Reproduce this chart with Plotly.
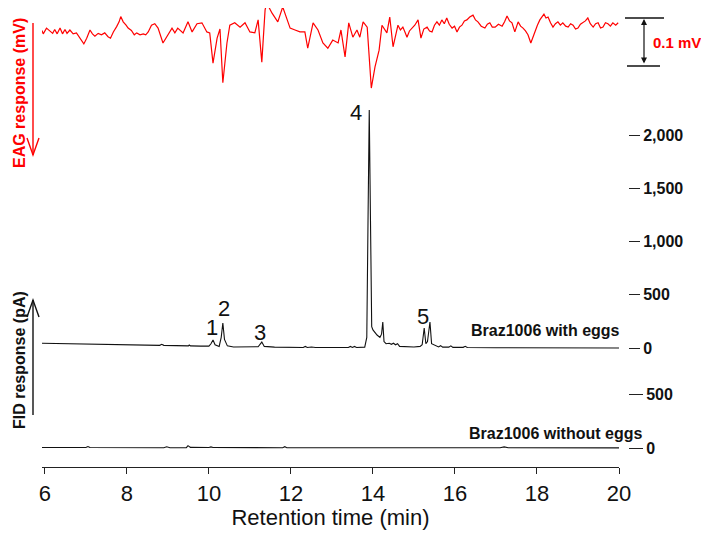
import plotly.graph_objects as go

# ---------------- data ----------------
# EAG response (mV), relative to baseline, in three time segments
eag_t_a = [5.93, 5.96, 6.04, 6.12, 6.19, 6.24, 6.30, 6.37, 6.43, 6.49,
           6.54, 6.61, 6.69, 6.77, 6.84, 6.90, 6.95, 7.02, 7.10, 7.16,
           7.22, 7.30, 7.38, 7.46, 7.54, 7.60, 7.67, 7.75, 7.81, 7.85,
           7.91, 7.98, 8.03, 8.11, 8.18, 8.24, 8.32, 8.40, 8.46, 8.52,
           8.60, 8.68, 8.76]
eag_v_a = [-0.001, -0.008, 0.004, -0.001, -0.007, 0.001, -0.008, 0.004, -0.008, 0.001,
           -0.007, 0.000, -0.008, -0.006, -0.015, -0.024, -0.029, -0.017, 0.000, -0.008,
           -0.013, -0.007, -0.010, -0.006, -0.014, -0.017, -0.004, 0.007, 0.017, 0.028,
           0.017, 0.010, 0.004, -0.001, -0.010, -0.006, -0.010, -0.008, -0.010, -0.004,
           0.010, 0.013, 0.004]
eag_t_b = [8.88, 9.00, 9.10, 9.17, 9.24, 9.37, 9.49, 9.59, 9.71, 9.83,
           9.95, 10.02, 10.10, 10.20, 10.27, 10.34, 10.44, 10.51, 10.63, 10.76,
           10.88, 11.00, 11.12, 11.20, 11.29, 11.37, 11.41, 11.54, 11.61, 11.68,
           11.80, 11.90, 11.98, 12.10, 12.22, 12.34, 12.41, 12.54, 12.66, 12.78,
           12.90, 13.02, 13.15, 13.22, 13.32, 13.41, 13.51, 13.61, 13.68, 13.76,
           13.86, 13.96, 14.05, 14.15, 14.22, 14.34, 14.41, 14.49]
eag_v_b = [-0.027, -0.010, 0.004, -0.006, 0.004, -0.006, 0.017, -0.004, 0.013, 0.015,
           -0.004, -0.006, -0.069, -0.017, 0.002, -0.110, -0.027, 0.010, 0.015, 0.006,
           0.015, -0.004, -0.006, 0.021, -0.067, 0.042, 0.056, 0.035, 0.027, 0.017,
           0.048, 0.025, 0.004, 0.000, -0.004, -0.004, -0.038, 0.015, 0.000, -0.027,
           -0.038, -0.021, -0.027, 0.000, -0.056, 0.015, -0.015, 0.000, -0.015, 0.017,
           0.006, -0.121, -0.077, -0.042, 0.010, -0.006, 0.027, -0.035]
eag_t_c = [14.61, 14.67, 14.73, 14.78, 14.83, 14.89, 14.95, 15.02, 15.10, 15.17,
           15.24, 15.32, 15.38, 15.44, 15.50, 15.56, 15.62, 15.68, 15.74, 15.80,
           15.86, 15.93, 15.99, 16.05, 16.11, 16.17, 16.23, 16.29, 16.36, 16.44,
           16.50, 16.56, 16.64, 16.73, 16.79, 16.85, 16.91, 16.98, 17.06, 17.15,
           17.21, 17.27, 17.33, 17.39, 17.46, 17.54, 17.60, 17.66, 17.72, 17.78,
           17.85, 17.90, 17.95, 18.01, 18.07, 18.17, 18.22, 18.27, 18.33, 18.39,
           18.45, 18.51, 18.57, 18.63, 18.70, 18.76, 18.82, 18.88, 18.94, 19.00,
           19.06, 19.12, 19.18, 19.24, 19.30, 19.37, 19.43, 19.49, 19.55, 19.61,
           19.67, 19.73, 19.79, 19.85, 19.92, 19.98]
eag_v_c = [0.010, 0.000, 0.006, -0.004, -0.015, -0.002, 0.004, 0.010, 0.021, -0.017,
           0.002, 0.006, -0.002, -0.004, 0.010, 0.017, 0.010, 0.021, 0.013, 0.025,
           0.012, 0.004, 0.008, -0.004, 0.006, 0.010, 0.019, 0.021, 0.027, 0.031,
           0.021, 0.017, 0.008, 0.004, 0.012, 0.015, 0.006, 0.006, 0.012, 0.008,
           0.017, 0.029, 0.019, 0.015, -0.004, 0.017, 0.008, 0.004, -0.002, -0.010,
           -0.027, -0.015, -0.006, 0.010, 0.021, 0.033, 0.025, 0.027, 0.015, 0.006,
           0.013, 0.017, 0.010, 0.015, 0.008, 0.006, 0.013, 0.010, 0.002, 0.004,
           0.012, 0.015, 0.019, 0.025, 0.013, 0.006, 0.013, 0.015, 0.004, 0.006,
           0.015, 0.013, 0.008, 0.015, 0.010, 0.015]
eag_time = eag_t_a + eag_t_b + eag_t_c
eag_mv = eag_v_a + eag_v_b + eag_v_c

# FID response (pA), Braz1006 with eggs
fid_time = [5.93, 6.50, 7.00, 7.50, 8.00, 8.50, 8.80, 8.85, 8.90, 9.20, 9.50, 9.52, 9.55, 9.80, 10.00,
            10.05, 10.10, 10.15, 10.25, 10.30, 10.34, 10.38, 10.45, 10.60, 11.00, 11.20, 11.29, 11.35,
            11.60, 12.00, 12.30, 12.35, 12.40, 12.50, 12.55, 12.60, 13.00, 13.40, 13.45, 13.50, 13.55,
            13.60, 13.80, 13.85, 13.88, 13.91, 13.94, 13.97, 14.00, 14.10, 14.17, 14.21, 14.24, 14.27,
            14.32, 14.40, 14.45, 14.50, 14.55, 14.60, 14.65, 14.80, 15.00, 15.15, 15.20, 15.25, 15.29,
            15.33, 15.39, 15.43, 15.50, 15.60, 15.65, 15.70, 15.85, 15.90, 15.95, 16.20, 16.25, 16.30,
            17.00, 18.00, 19.00, 20.00]
fid_eggs = [45, 42, 38, 34, 30, 27, 25, 35, 25, 22, 20, 28, 20, 18, 18,
            40, 75, 30, 15, 100, 235, 80, 20, 10, 10, 12, 56, 15,
            8, 5, 5, 15, 5, 10, 5, 5, 5, 5, 15, 5, 15,
            5, 8, 100, 1200, 2235, 1200, 200, 170, 122, 100, 130, 244, 60,
            40, 45, 35, 45, 30, 40, 15, 12, 10, 15, 30, 188, 40,
            60, 244, 40, 28, 10, 22, 8, 8, 20, 6, 6, 16, 5,
            3, 2, 1, 0]

# FID response (pA), Braz1006 without eggs
fid_no_time = [5.93, 7.00, 7.05, 7.10, 8.90, 8.97, 9.05, 9.45, 9.49, 9.55, 10.00, 10.05, 10.10, 11.80,
               11.85, 11.90, 15.40, 17.10, 17.20, 17.30, 20.00]
fid_no_eggs = [5, 4, 14, 4, 3, 12, 3, 3, 22, 6, 5, 10, 4, 3, 12, 3, 2, 2, 10, 2, 1]

# labelled compounds
peak_labels = ["1", "2", "3", "4", "5"]
peak_time = [10.10, 10.34, 11.29, 13.91, 15.39]
peak_height = [75, 235, 56, 2235, 244]

x_ticks = [6, 8, 10, 12, 14, 16, 18, 20]
fid_ticks = [0, 500, 1000, 1500, 2000]
fid_ticktext = ["0", "500", "1,000", "1,500", "2,000"]
fid_no_ticks = [0, 500]
fid_no_ticktext = ["0", "500"]
scale_bar_mv = [0.025, -0.075]   # 0.1 mV scale bar ends

# ---------------- layout helpers (reference pixel frame) ----------------
OFF = 8                                   # page body margin
W, H = 709 - OFF, 540 - OFF
L, R_EDGE, TOP, BOT = 42, 628, OFF, 467   # plot area, reference pixels
PW, PH = R_EDGE - L, BOT - TOP
K_EAG = 480      # px per mV
K_FID = 0.1065   # px per pA


def px(x):
    return (x - L) / PW


def py(y):
    return (BOT - y) / PH


FONT = "Liberation Sans, Arial, sans-serif"
RED = "#ff0000"
BLACK = "#111111"

fig = go.Figure()
fig.add_trace(go.Scatter(x=eag_time, y=eag_mv, mode="lines", yaxis="y2",
                         line=dict(color=RED, width=1.2), showlegend=False))
fig.add_trace(go.Scatter(x=fid_time, y=fid_eggs, mode="lines", yaxis="y",
                         line=dict(color=BLACK, width=1.1), showlegend=False))
fig.add_trace(go.Scatter(x=fid_no_time, y=fid_no_eggs, mode="lines", yaxis="y3",
                         line=dict(color=BLACK, width=1.1), showlegend=False))

y0_fid, y0_no, y0_eag = 348, 448, 30
fid_range = [-(BOT - y0_fid) / K_FID, (y0_fid - TOP) / K_FID]
no_range = [-(BOT - y0_no) / K_FID, (y0_no - TOP) / K_FID]
eag_range = [-(BOT - y0_eag) / K_EAG, (y0_eag - TOP) / K_EAG]

axis_font = dict(family=FONT, size=16, color=BLACK, weight="bold")
fig.update_layout(
    width=W, height=H,
    margin=dict(l=L - OFF, r=W - (R_EDGE - OFF), t=TOP - OFF, b=H - (BOT - OFF), autoexpand=False),
    paper_bgcolor="white", plot_bgcolor="white",
    font=dict(family=FONT),
    xaxis=dict(domain=[0, px(619)], range=[5.93, 20], tickvals=x_ticks, showline=True,
               linecolor="#222222", linewidth=1.2, ticks="outside", ticklen=6, tickcolor="#222222",
               showgrid=False, zeroline=False, automargin=False,
               tickfont=dict(family=FONT, size=22, color=BLACK),
               title=dict(text="Retention time (min)", font=dict(family=FONT, size=22, color=BLACK),
                          standoff=4)),
    yaxis=dict(range=fid_range, side="right", anchor="free", position=1.0, tickvals=fid_ticks,
               ticktext=fid_ticktext, ticks="outside", ticklen=11, tickwidth=1.3, tickcolor="#222222",
               showline=False, showgrid=False, zeroline=False, tickfont=axis_font, automargin=False),
    yaxis3=dict(range=no_range, side="right", anchor="free", position=1.0, overlaying="y",
                tickvals=fid_no_ticks, ticktext=fid_no_ticktext, ticks="outside", ticklen=14,
                tickwidth=1.3, tickcolor="#222222", showline=False, showgrid=False, zeroline=False,
                tickfont=axis_font, automargin=False),
    yaxis2=dict(range=eag_range, overlaying="y", visible=False),
)

# peak labels: (xshift, yshift, yanchor)
shifts = {"1": (-1, -2, "bottom"), "2": (1, 0, "bottom"), "3": (-2, -5, "bottom"),
          "4": (-13, -3, "middle"), "5": (-7, -9, "bottom")}
for lab, t, h in zip(peak_labels, peak_time, peak_height):
    xs, ys, ya = shifts[lab]
    fig.add_annotation(x=t, y=h, xref="x", yref="y", text=lab, showarrow=False, xanchor="center",
                       yanchor=ya, xshift=xs, yshift=ys, font=dict(family=FONT, size=22, color=BLACK))

bold16 = dict(family=FONT, size=16, color=BLACK)
fig.add_annotation(x=px(469), y=0, xref="paper", yref="y", text="<b>Braz1006 with eggs</b>",
                   showarrow=False, xanchor="left", yanchor="bottom", yshift=7, font=bold16)
fig.add_annotation(x=px(467), y=0, xref="paper", yref="y3", text="<b>Braz1006 without eggs</b>",
                   showarrow=False, xanchor="left", yanchor="bottom", yshift=4, font=bold16)

# axis labels with arrows
fig.add_annotation(x=px(19), y=py(93), xref="paper", yref="paper", text="<b>EAG response (mV)</b>",
                   textangle=-90, showarrow=False, xanchor="center", yanchor="middle", borderpad=0,
                   font=dict(family=FONT, size=16, color=RED))
fig.add_annotation(x=px(19), y=py(360), xref="paper", yref="paper", text="<b>FID response (pA)</b>",
                   textangle=-90, showarrow=False, xanchor="center", yanchor="middle", borderpad=0,
                   font=dict(family=FONT, size=16, color=BLACK))

fig.add_shape(type="line", xref="paper", yref="paper", x0=px(33), x1=px(33), y0=py(23), y1=py(155),
              line=dict(color=RED, width=1.4))
fig.add_shape(type="path", xref="paper", yref="paper",
              path=f"M {px(27)},{py(138)} L {px(33)},{py(155)} L {px(39)},{py(138)}",
              line=dict(color=RED, width=1.4))
fig.add_shape(type="line", xref="paper", yref="paper", x0=px(33), x1=px(33), y0=py(300), y1=py(415),
              line=dict(color=BLACK, width=1.4))
fig.add_shape(type="path", xref="paper", yref="paper",
              path=f"M {px(27)},{py(317)} L {px(33)},{py(300)} L {px(39)},{py(317)}",
              line=dict(color=BLACK, width=1.4))

# 0.1 mV scale bar (in EAG units)
fig.add_shape(type="line", xref="paper", yref="y2", x0=px(625), x1=px(664), y0=scale_bar_mv[0],
              y1=scale_bar_mv[0], line=dict(color=BLACK, width=1.3))
fig.add_shape(type="line", xref="paper", yref="y2", x0=px(627), x1=px(660), y0=scale_bar_mv[1],
              y1=scale_bar_mv[1], line=dict(color=BLACK, width=1.3))
bar_px = (scale_bar_mv[0] - scale_bar_mv[1]) * K_EAG
fig.add_annotation(x=px(644), y=scale_bar_mv[0], xref="paper", yref="y2", ax=0, ay=bar_px,
                   axref="pixel", ayref="pixel", text="", showarrow=True, arrowhead=2, startarrowhead=2,
                   arrowside="end+start", arrowsize=1, arrowwidth=1.2, arrowcolor=BLACK,
                   standoff=1, startstandoff=1)
fig.add_annotation(x=px(652), y=(scale_bar_mv[0] + scale_bar_mv[1]) / 2, xref="paper", yref="y2",
                   text="<b>0.1 mV</b>", showarrow=False, xanchor="left", borderpad=0,
                   font=dict(family=FONT, size=15, color=RED))

fig.write_html("out.html")
